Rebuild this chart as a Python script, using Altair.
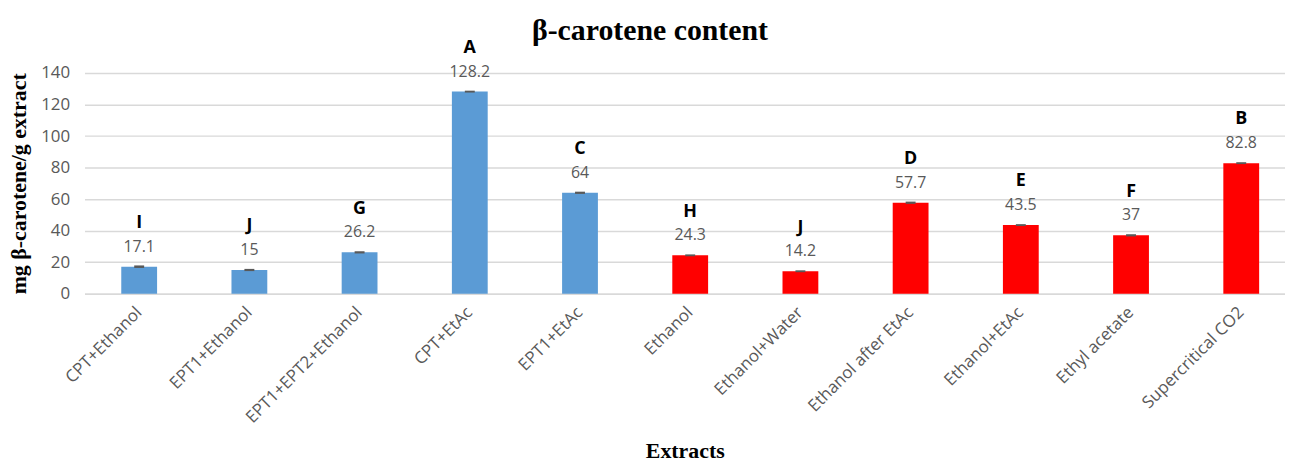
import altair as alt
import pandas as pd

categories = ["CPT+Ethanol", "EPT1+Ethanol", "EPT1+EPT2+Ethanol", "CPT+EtAc", "EPT1+EtAc",
              "Ethanol", "Ethanol+Water", "Ethanol after EtAc", "Ethanol+EtAc", "Ethyl acetate",
              "Supercritical CO2"]
values = [17.1, 15, 26.2, 128.2, 64, 24.3, 14.2, 57.7, 43.5, 37, 82.8]
errors = [0.8, 0.7, 0.7, 0.6, 0.7, 0.6, 0.6, 0.7, 0.6, 0.7, 0.6]
letters = ["I", "J", "G", "A", "C", "H", "J", "D", "E", "F", "B"]
groups = ["blue"] * 5 + ["red"] * 6
y_ticks = [0, 20, 40, 60, 80, 100, 120, 140]

df = pd.DataFrame({
    "cat": categories,
    "val": values,
    "lo": [v - e for v, e in zip(values, errors)],
    "hi": [v + e for v, e in zip(values, errors)],
    "letter": letters,
    "grp": groups,
})

FONT = "Open Sans"
GRAY = "#595959"

x = alt.X("cat:N", sort=categories,
          scale=alt.Scale(paddingInner=0.675, paddingOuter=0.284, align=0.587),
          axis=alt.Axis(title="Extracts", labelAngle=-45, labelAlign="right", labelBaseline="middle",
                        labelFont=FONT, labelFontSize=17,
                        labelColor=GRAY, ticks=False, domainColor="#D9D9D9", domainWidth=1.5,
                        labelPadding=16, labelOverlap=False, titleFont="Liberation Serif",
                        titleFontWeight="bold", titleFontSize=22, titleColor="black", titlePadding=15))

base = alt.Chart(df).encode(x=x)

bars = base.mark_bar().encode(
    y=alt.Y("val:Q", scale=alt.Scale(domain=[0, 140], nice=False),
            axis=alt.Axis(title="mg β-carotene/g extract", values=y_ticks, tickCount=8,
                          labelOverlap=False, labelFlush=False,
                          labelFont=FONT, labelFontSize=17, labelColor=GRAY, ticks=False,
                          domain=False, gridColor="#D9D9D9", gridWidth=1.5, labelPadding=15,
                          titleFont="Liberation Serif", titleFontWeight="bold", titleFontSize=22,
                          titleColor="black", titlePadding=10)),
    color=alt.Color("grp:N", scale=alt.Scale(domain=["blue", "red"], range=["#5B9BD5", "#FF0000"]),
                    legend=None),
)

err = base.mark_rect(width=10, color=GRAY).encode(y="lo:Q", y2="hi:Q")

vlabels = base.mark_text(font=FONT, fontSize=16, color=GRAY, baseline="middle", dy=-20).encode(
    y="val:Q", text="val:Q")

llabels = base.mark_text(font=FONT, fontSize=18, fontWeight="bold", color="black",
                         baseline="middle", dy=-44).encode(y="val:Q", text="letter:N")

chart = alt.layer(bars, err, vlabels, llabels).properties(
    width=1208, height=222,
    title=alt.TitleParams("β-carotene content", font="Liberation Serif", fontSize=30,
                          fontWeight="bold", color="black", anchor="middle", dx=-35, offset=-7),
    autosize=alt.AutoSizeParams(type="none"),
    padding={"left": 77, "top": 64, "right": 0, "bottom": 169},
).configure_view(stroke=None)

chart.save("out.html", embed_options={"renderer": "svg", "actions": False})
